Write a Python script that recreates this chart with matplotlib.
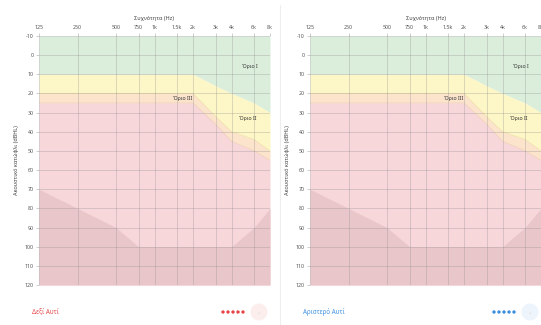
import matplotlib
matplotlib.use("Agg")
import matplotlib.pyplot as plt
from matplotlib.patches import Ellipse

plt.rcParams['font.family'] = ['Noto Sans', 'DejaVu Sans']

# --- data ---
freqs = [125, 250, 500, 750, 1000, 1500, 2000, 3000, 4000, 6000, 8000]
freq_labels = ['125', '250', '500', '750', '1k', '1.5k', '2k', '3k', '4k', '6k', '8k']
db_ticks = list(range(-10, 121, 10))

limit1_lower = [10, 10, 10, 10, 10, 10, 10, 16, 20, 25, 30]     # green / yellow edge
limit2_lower = [20, 20, 20, 20, 20, 20, 20, 32, 40, 44, 50]     # yellow / orange edge
limit3_lower = [25, 25, 25, 25, 25, 25, 25, 36, 45, 50, 55]     # orange / pink edge
severe_upper = [70, 80, 90, 100, 100, 100, 100, 100, 100, 90, 80]

zone_labels = ['Όριο I', 'Όριο II', 'Όριο III']
zone_label_pos = [(5600, 6), (5400, 33), (1650, 22.5)]

ears = ['Δεξί Αυτί', 'Αριστερό Αυτί']
ear_colors = ['#e8474a', '#3d8fe0']
button_colors = ['#fdeeee', '#eef4fb']

W, H = 541, 325
fig = plt.figure(figsize=(W / 100, H / 100), dpi=100)

panel_left = [39, 310]
panel_w = 231
top, bottom = 36, 285

def draw_panel(x0, ear, col, bcol):
    ax = fig.add_axes([x0 / W, (H - bottom) / H, panel_w / W, (bottom - top) / H])
    ax.set_xscale('log', base=2)
    ax.set_xlim(125, 8000)
    ax.set_ylim(120, -10)
    ax.fill_between(freqs, -10, limit1_lower, color='#dbeedb', lw=0)
    ax.fill_between(freqs, limit1_lower, limit2_lower, color='#fdf6c6', lw=0)
    ax.fill_between(freqs, limit2_lower, limit3_lower, color='#fbe3cc', lw=0)
    ax.fill_between(freqs, limit3_lower, 120, color='#f8d7db', lw=0)
    ax.fill_between(freqs, severe_upper, 120, color='#e9c6c9', lw=0)
    ax.plot(freqs, limit2_lower, color='#f1dfa8', lw=0.5)
    ax.plot(freqs, limit3_lower, color='#f0cdb8', lw=0.5)

    ax.xaxis.tick_top()
    ax.xaxis.set_label_position('top')
    ax.set_xticks(freqs)
    ax.set_xticklabels(freq_labels)
    ax.minorticks_off()
    ax.set_yticks(db_ticks)
    ax.set_yticklabels([str(v) for v in db_ticks])
    ax.tick_params(axis='both', labelsize=3.8, colors='#bbbbbb', labelcolor='#555555',
                   length=2, width=0.5, pad=2)
    ax.grid(True, color='#8a8a8a', alpha=0.35, lw=0.6)
    ax.set_axisbelow(False)
    for s in ax.spines.values():
        s.set_visible(False)
    ax.set_xlabel('Συχνότητα (Hz)', fontsize=4, color='#444444', labelpad=4)
    ax.set_ylabel('Ακουστικό κατώφλι (dBHL)', fontsize=4, color='#444444', labelpad=4)

    for lab, (fx, fy) in zip(zone_labels, zone_label_pos):
        ax.text(fx, fy, lab, fontsize=3.8, fontweight='bold', color='#333333',
                ha='center', va='center')

    # footer: ear name, dots, button
    yc = (H - 312) / H
    fig.text((x0 - 7) / W, yc, ear, fontsize=4.5, color=col, ha='left', va='center')
    for i in range(5):
        fig.add_artist(Ellipse(((x0 + 184 + i * 5) / W, yc), 3.4 / W, 3.4 / H,
                               transform=fig.transFigure, color=col, lw=0))
    fig.add_artist(Ellipse(((x0 + 220) / W, yc), 17 / W, 17 / H,
                           transform=fig.transFigure, color=bcol, lw=0))
    fig.text((x0 + 220) / W, yc, '⌄', fontsize=4, color='#d8d8d8',
             ha='center', va='center', family='DejaVu Sans')

for x0, ear, col, bcol in zip(panel_left, ears, ear_colors, button_colors):
    draw_panel(x0, ear, col, bcol)

# divider between the two panels
fig.add_artist(plt.Line2D([280 / W, 280 / W], [0, 1 - 5 / H], transform=fig.transFigure,
                          color='#eeeeee', lw=0.8))

fig.savefig('out.png', dpi=100)
